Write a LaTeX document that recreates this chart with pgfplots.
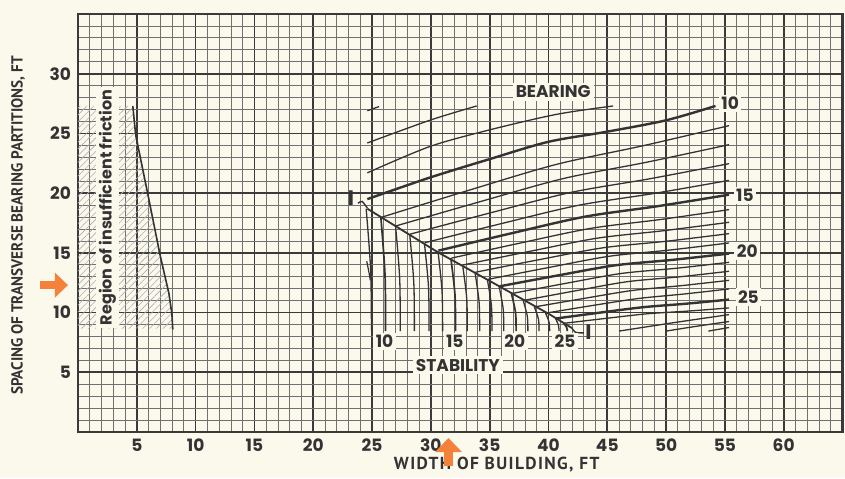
\documentclass[border=0pt]{standalone}
\usepackage{pgfplots}
\pgfplotsset{compat=1.18}
\usepackage{fontspec}
\setmainfont{Poppins}
\newfontfamily\ptsans{PT Sans}
\usetikzlibrary{arrows.meta,patterns.meta}
\definecolor{paper}{HTML}{FBF8EC}
\definecolor{ink}{HTML}{333333}
\definecolor{gmaj}{HTML}{3A3A3A}
\definecolor{gmin}{HTML}{707070}
\definecolor{orng}{HTML}{F5823A}
\newcommand\lbl{\bfseries\fontsize{8.5}{9}\selectfont}
\begin{document}
\begin{tikzpicture}
\fill[paper] (-39pt,-23pt) rectangle (383.5pt,216pt);
\useasboundingbox (-39pt,-23pt) rectangle (383.5pt,216pt);
\begin{axis}[at={(0,0)}, anchor=south west, scale only axis,
  width=382.25pt, height=209pt,
  xmin=0, xmax=65, ymin=0, ymax=35,
  xtick={5,10,...,60}, ytick={5,10,...,30},
  minor xtick={1,2,...,64}, minor ytick={1,2,...,34},
  grid=both,
  major tick length=0pt, minor tick length=0pt,
  major grid style={gmaj, line width=0.85pt},
  minor grid style={gmin, line width=0.4pt},
  axis line style={gmaj, line width=1.1pt},
  tick label style={font=\lbl, text=ink},
  /pgf/number format/assume math mode=true,
  clip=false]
% hatched region
\addplot[draw=none, pattern={Lines[angle=45,distance=2.4pt,line width=0.3pt]}, pattern color=gmin!55]
  coordinates {(0,8.65) (8.06,8.65) (7.98,9.9) (7.73,11.6) (6.96,14.9) (5.94,19.9) (4.9,24.9) (4.66,27.3) (0,27.3)} -- cycle;
\addplot[ink, line width=0.8pt] coordinates {(4.66,27.3) (4.9,24.9) (5.94,19.9) (6.96,14.9) (7.73,11.6) (7.98,9.9) (8.06,8.6)};
\node[rotate=90, fill=paper, inner sep=1.5pt, font=\bfseries\fontsize{8}{9}\selectfont, text=ink] at (axis cs:2.5,18.8) {Region of insufficient friction};

% diagonal
\addplot[ink, line width=0.9pt] coordinates {(24.6,18.7) (30.6,15.05) (35,12.65) (40.1,9.85) (42.0,8.7)};
\addplot[ink, line width=0.7pt, smooth] coordinates {(23.8,19.15) (24.15,19.3) (24.6,18.75)};
\addplot[ink, line width=0.7pt, smooth] coordinates {(42.0,8.7) (42.3,8.35) (43.0,8.3)};

% stability curves
\addplot[ink, line width=0.6pt, smooth] coordinates {(24.55,14.3) (24.75,13.3) (24.85,12.7)};
\addplot[ink, line width=0.65pt, smooth] coordinates {(24.5,18.7) (24.88,13.6) (24.95,8.45)};
\addplot[ink, line width=0.85pt, smooth] coordinates {(25.75,17.98) (26.1,13.2) (26.15,8.45)};
\addplot[ink, line width=0.65pt, smooth] coordinates {(27.0,17.26) (27.35,12.85) (27.4,8.45)};
\addplot[ink, line width=0.65pt, smooth] coordinates {(28.2,16.57) (28.55,12.5) (28.6,8.45)};
\addplot[ink, line width=0.65pt, smooth] coordinates {(29.45,15.85) (29.8,12.15) (29.85,8.45)};
\addplot[ink, line width=0.65pt, smooth] coordinates {(30.6,15.19) (30.95,11.8) (31.0,8.45)};
\addplot[ink, line width=0.85pt, smooth] coordinates {(31.7,14.56) (32.05,11.5) (32.1,8.45)};
\addplot[ink, line width=0.65pt, smooth] coordinates {(32.7,13.99) (33.05,11.2) (33.1,8.45)};
\addplot[ink, line width=0.65pt, smooth] coordinates {(33.75,13.38) (34.1,10.9) (34.15,8.45)};
\addplot[ink, line width=0.65pt, smooth] coordinates {(34.8,12.78) (35.15,10.6) (35.2,8.45)};
\addplot[ink, line width=0.65pt, smooth] coordinates {(35.8,12.20) (36.15,10.3) (36.2,8.45)};
\addplot[ink, line width=0.85pt, smooth] coordinates {(36.85,11.60) (37.2,10.0) (37.25,8.45)};
\addplot[ink, line width=0.65pt, smooth] coordinates {(37.85,11.02) (38.2,9.7) (38.25,8.45)};
\addplot[ink, line width=0.65pt, smooth] coordinates {(38.8,10.48) (39.15,9.45) (39.2,8.45)};
\addplot[ink, line width=0.65pt, smooth] coordinates {(39.75,9.96) (40.05,9.2) (40.1,8.45)};
\addplot[ink, line width=0.65pt, smooth] coordinates {(40.6,9.50) (40.85,8.95) (40.9,8.45)};
\addplot[ink, line width=0.85pt, smooth] coordinates {(41.3,9.10) (41.55,8.75) (41.6,8.45)};

% bearing curves
\addplot[ink, line width=0.65pt, smooth] coordinates {(24.6,26.9) (25.6,27.25)};
\addplot[ink, line width=0.65pt, smooth] coordinates {(24.6,24.2) (29.9,26.1) (33.9,27.3)};
\addplot[ink, line width=0.65pt, smooth] coordinates {(24.6,21.7) (29.9,23.9) (35,25.3) (40.7,26.6) (45.5,27.3)};
\addplot[ink, line width=1.2pt, smooth] coordinates {(24.6,19.5) (29.9,21.3) (35,22.85) (40,24.3) (45,25.15) (50,26.1) (54.2,27.3)};
\addplot[ink, line width=0.65pt, smooth] coordinates {(25.8,17.98) (33.26,20.25) (40.68,22.41) (48.09,23.98) (55.35,25.65)};
\addplot[ink, line width=0.65pt, smooth] coordinates {(27.05,17.26) (34.2,19.29) (41.3,21.23) (48.4,22.60) (55.35,24.06)};
\addplot[ink, line width=0.65pt, smooth] coordinates {(28.25,16.57) (35.1,18.36) (41.9,20.06) (48.7,21.22) (55.35,22.47)};
\addplot[ink, line width=0.65pt, smooth] coordinates {(29.5,15.85) (36.04,17.46) (42.53,18.98) (49.01,19.98) (55.35,21.07)};
\addplot[ink, line width=1.2pt, smooth] coordinates {(30.65,15.19) (36.9,16.65) (43.1,18.03) (49.3,18.91) (55.35,19.87)};
\addplot[ink, line width=0.65pt, smooth] coordinates {(31.75,14.56) (37.73,15.85) (43.65,17.06) (49.58,17.80) (55.35,18.62)};
\addplot[ink, line width=0.65pt, smooth] coordinates {(32.75,13.99) (38.48,15.14) (44.15,16.23) (49.83,16.86) (55.35,17.56)};
\addplot[ink, line width=0.65pt, smooth] coordinates {(33.8,13.38) (39.26,14.44) (44.68,15.43) (50.09,15.98) (55.35,16.61)};
\addplot[ink, line width=0.65pt, smooth] coordinates {(34.85,12.78) (40.05,13.78) (45.2,14.72) (50.35,15.24) (55.35,15.83)};
\addplot[ink, line width=1.2pt, smooth] coordinates {(35.85,12.20) (40.8,13.11) (45.7,13.96) (50.6,14.42) (55.35,14.94)};
\addplot[ink, line width=0.65pt, smooth] coordinates {(36.9,11.60) (41.59,12.47) (46.23,13.28) (50.86,13.71) (55.35,14.21)};
\addplot[ink, line width=0.65pt, smooth] coordinates {(37.9,11.02) (42.34,11.83) (46.73,12.59) (51.11,12.99) (55.35,13.46)};
\addplot[ink, line width=0.65pt, smooth] coordinates {(38.85,10.48) (43.05,11.19) (47.2,11.86) (51.35,12.26) (55.35,12.70)};
\addplot[ink, line width=0.65pt, smooth] coordinates {(39.8,9.96) (43.73,10.59) (47.65,11.18) (51.58,11.56) (55.35,11.98)};
\addplot[ink, line width=1.2pt, smooth] coordinates {(40.6,9.50) (44.33,9.99) (48.05,10.45) (51.78,10.75) (55.35,11.09)};
\addplot[ink, line width=0.65pt, smooth] coordinates {(41.3,9.10) (44.85,9.51) (48.4,9.90) (51.95,10.13) (55.35,10.39)};
\addplot[ink, line width=0.65pt, smooth] coordinates {(46.0,8.45) (50.75,9.17) (55.35,9.83)};
\addplot[ink, line width=0.65pt, smooth] coordinates {(50.0,8.45) (52.7,8.87) (55.35,9.25)};
\addplot[ink, line width=0.65pt] coordinates {(53.6,8.45) (55.35,8.75)};

% labels
\node[fill=paper, inner sep=1.5pt, font=\lbl, text=ink] at (axis cs:40.4,28.5) {BEARING};
\node[fill=paper, inner sep=1.5pt, font=\lbl, text=ink] at (axis cs:32.3,5.6) {STABILITY};
\node[fill=paper, inner sep=1.2pt, font=\lbl, text=ink] at (axis cs:55.45,27.5) {10};
\node[fill=paper, inner sep=1.2pt, font=\lbl, text=ink] at (axis cs:56.7,19.83) {15};
\node[fill=paper, inner sep=1.2pt, font=\lbl, text=ink] at (axis cs:56.9,15.17) {20};
\node[fill=paper, inner sep=1.2pt, font=\lbl, text=ink] at (axis cs:57.0,11.3) {25};
\node[fill=paper, inner sep=1.2pt, font=\lbl, text=ink] at (axis cs:26.06,7.6) {10};
\node[fill=paper, inner sep=1.2pt, font=\lbl, text=ink] at (axis cs:32.03,7.6) {15};
\node[fill=paper, inner sep=1.2pt, font=\lbl, text=ink] at (axis cs:37.14,7.6) {20};
\node[fill=paper, inner sep=1.2pt, font=\lbl, text=ink] at (axis cs:41.4,7.6) {25};
\node[inner sep=0pt, font=\bfseries\fontsize{10.5}{11}\selectfont, text=ink] at (axis cs:23.2,19.55) {I};
\node[inner sep=0pt, font=\bfseries\fontsize{10.5}{11}\selectfont, text=ink] at (axis cs:43.4,8.4) {I};

% axis titles
\node[rotate=90, font=\ptsans\bfseries\fontsize{8}{9}\selectfont, text=ink] at ([xshift=-30pt]axis cs:0,17.3) {\scalebox{0.95}[1]{SPACING OF TRANSVERSE BEARING PARTITIONS, FT}};
\node[font=\ptsans\bfseries\fontsize{8.7}{9}\selectfont\addfontfeatures{LetterSpace=8}, text=ink] at ([yshift=-16.5pt]axis cs:35.6,0) {WIDTH OF BUILDING, FT};

% orange arrows
\draw[orng, line width=4pt, -{Triangle[length=6.5pt,width=12pt]}] ([xshift=-19pt]axis cs:0,12.3) -- ([xshift=-5pt]axis cs:0,12.3);
\draw[orng, line width=4.5pt, -{Triangle[length=7pt,width=13pt]}] ([yshift=-17pt]axis cs:31.5,0) -- ([yshift=-3pt]axis cs:31.5,0);
\end{axis}
\end{tikzpicture}
\end{document}
